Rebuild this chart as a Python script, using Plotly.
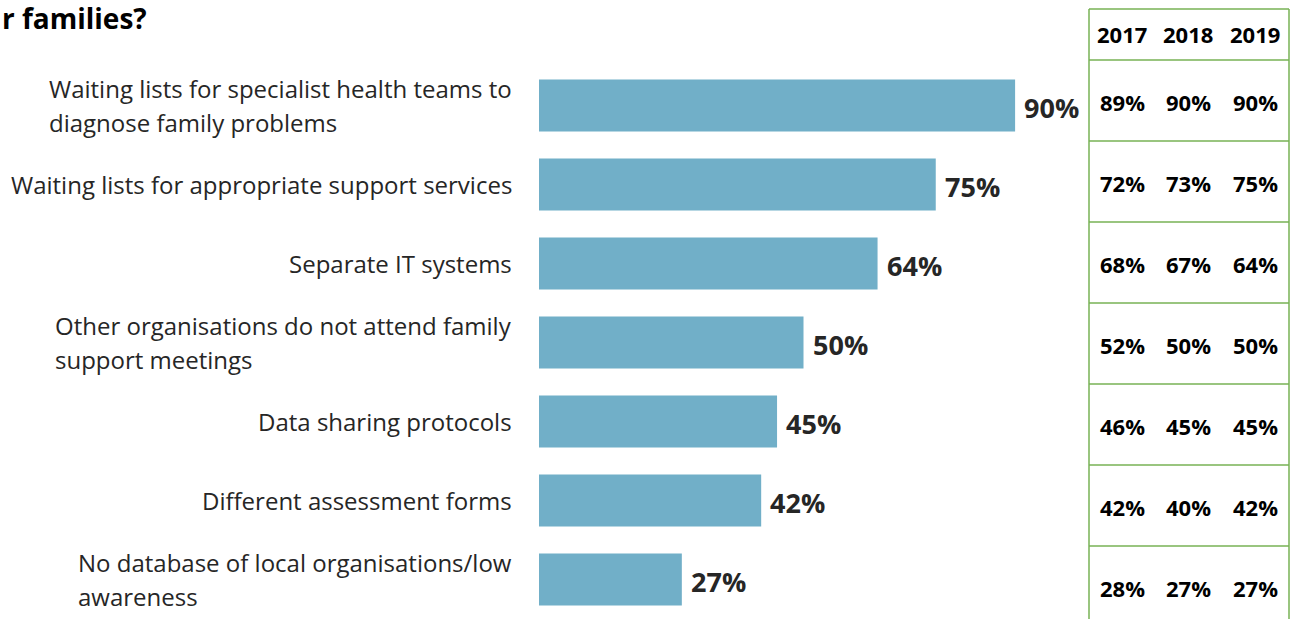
import plotly.graph_objects as go

# Survey items (top to bottom) and the 2019 share shown as bars
categories = [
    "Waiting lists for specialist health teams to\ndiagnose family problems",
    "Waiting lists for appropriate support services",
    "Separate IT systems",
    "Other organisations do not attend family\nsupport meetings",
    "Data sharing protocols",
    "Different assessment forms",
    "No database of local organisations/low\nawareness",
]
values_2019 = [90, 75, 64, 50, 45, 42, 27]

# Year-by-year comparison table
years = ["2017", "2018", "2019"]
table_2017 = [89, 72, 68, 52, 46, 42, 28]
table_2018 = [90, 73, 67, 50, 45, 40, 27]
table_2019 = [90, 75, 64, 50, 45, 42, 27]

title_text = "r families?"

# Page geometry (pixels)
W, H = 1290, 619
ML, MR, MT, MB = 539, 222, 66, 0
PW, PH = W - ML - MR, H - MT - MB

FONT = "Open Sans"
TEXT_COLOR = "#262626"
BAR_COLOR = "#71AFC8"
GRID_GREEN = "#77B255"


def px_x(x):
    return (x - ML) / PW


def px_y(y):
    return 1 - (y - MT) / PH


fig = go.Figure()
fig.add_trace(go.Bar(
    y=list(range(len(categories))),
    x=values_2019,
    orientation="h",
    marker=dict(color=BAR_COLOR, line=dict(width=0)),
    hoverinfo="skip",
))

annotations = []

# Category labels: right-aligned block, lines left-aligned, generous line spacing
for i, label in enumerate(categories):
    lines = label.split("\n")
    txt = "<br>".join(f"<span style='font-size:24px'>{ln}</span>" for ln in lines)
    annotations.append(dict(
        x=0, xref="paper", y=i, yref="y",
        xanchor="right", yanchor="middle", xshift=-25,
        text=txt, showarrow=False, align="left",
        font=dict(family=FONT, size=26, color=TEXT_COLOR),
    ))

# Value labels beside each bar
for i, v in enumerate(values_2019):
    annotations.append(dict(
        x=v, xref="x", y=i, yref="y",
        xanchor="left", yanchor="middle", xshift=7, yshift=-2,
        text=f"<b>{v}%</b>", showarrow=False,
        font=dict(family=FONT, size=27, color=TEXT_COLOR),
    ))

# Title fragment at top-left
annotations.append(dict(
    x=px_x(0), xref="paper", y=px_y(18), yref="paper",
    xanchor="left", yanchor="middle",
    text=f"<b>{title_text}</b>", showarrow=False,
    font=dict(family=FONT, size=28, color="#000000"),
))

# Comparison table
tab_left, tab_right = 1089, 1289
tab_top, head_bottom, row_h = 9, 60, 81
col_centers = [1122, 1188, 1255]
shapes = []
h_lines = [tab_top, head_bottom] + [head_bottom + row_h * (k + 1) for k in range(len(categories) - 1)]
for yy in h_lines:
    shapes.append(dict(type="line", xref="paper", yref="paper",
                       x0=px_x(tab_left), x1=px_x(tab_right), y0=px_y(yy), y1=px_y(yy),
                       line=dict(color=GRID_GREEN, width=1.5)))
for xx in (tab_left, tab_right):
    shapes.append(dict(type="line", xref="paper", yref="paper",
                       x0=px_x(xx), x1=px_x(xx), y0=px_y(tab_top), y1=px_y(H),
                       line=dict(color=GRID_GREEN, width=1.5)))

for c, yr in enumerate(years):
    annotations.append(dict(
        x=px_x(col_centers[c]), xref="paper", y=px_y((tab_top + head_bottom) / 2), yref="paper",
        xanchor="center", yanchor="middle", text=f"<b>{yr}</b>", showarrow=False,
        font=dict(family=FONT, size=22, color="#000000"),
    ))

for c, col in enumerate([table_2017, table_2018, table_2019]):
    for r, v in enumerate(col):
        yc = head_bottom + row_h * (r + 0.5) + 1
        annotations.append(dict(
            x=px_x(col_centers[c]), xref="paper", y=px_y(yc), yref="paper",
            xanchor="center", yanchor="middle", text=f"<b>{v}%</b>", showarrow=False,
            font=dict(family=FONT, size=22, color="#000000"),
        ))

fig.update_layout(
    width=W, height=H,
    margin=dict(l=ML, r=MR, t=MT, b=MB, pad=0),
    paper_bgcolor="white", plot_bgcolor="white",
    bargap=0.34,
    showlegend=False,
    xaxis=dict(range=[0, 100], visible=False, fixedrange=True),
    yaxis=dict(range=[len(categories) - 0.5, -0.5], visible=False, fixedrange=True),
    annotations=annotations,
    shapes=shapes,
)

fig.write_html("out.html", config={"displayModeBar": False})
